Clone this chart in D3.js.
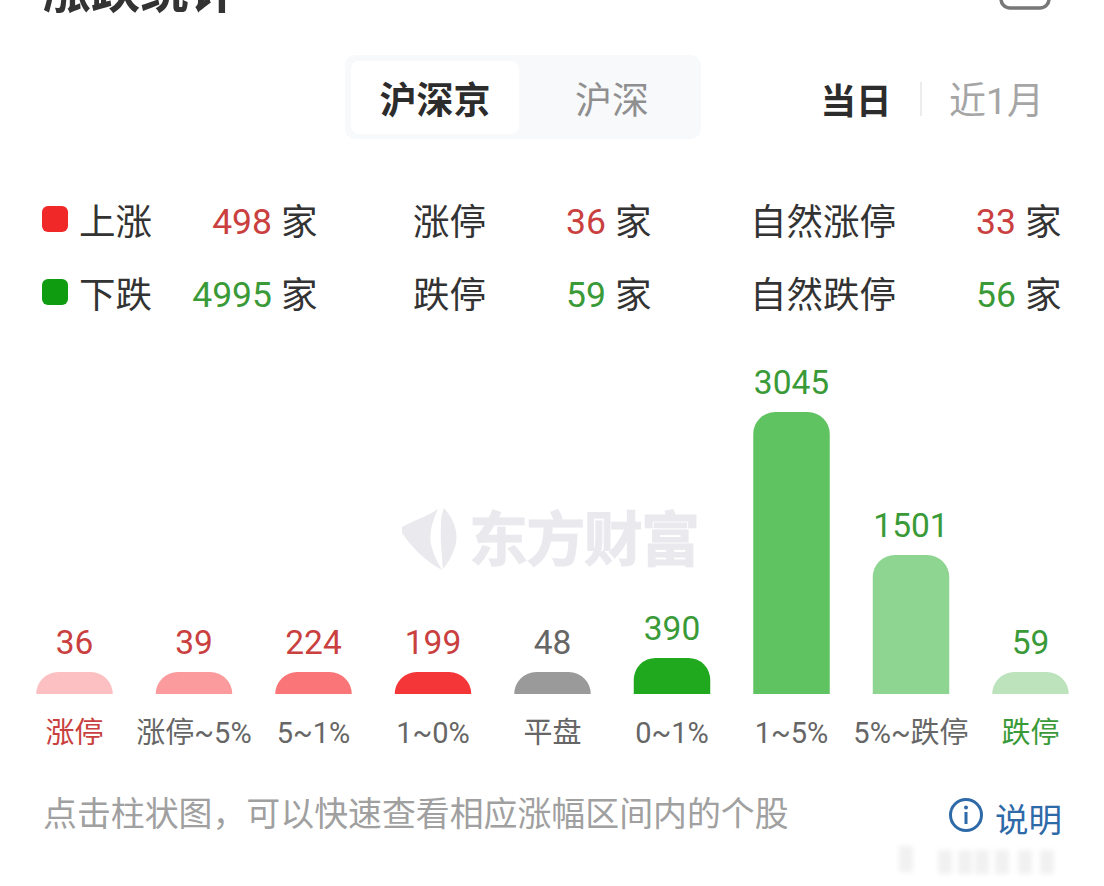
<!DOCTYPE html>
<html><head><meta charset="utf-8">
<script src="https://cdn.jsdelivr.net/npm/d3@7/dist/d3.min.js"></script>
<style>html,body{margin:0;padding:0;background:#fff}svg{display:block}
text{font-family:Roboto,"Noto Sans CJK SC",sans-serif}</style></head><body>
<svg id="c" width="1104" height="886"></svg>
<script>
const categories=["涨停","涨停~5%","5~1%","1~0%","平盘","0~1%","1~5%","5%~跌停","跌停"];
const counts=[36,39,224,199,48,390,3045,1501,59];
const barColors=["#fcc0c2","#fb9b9d","#f97577","#f53639","#9a9a9a","#20a91e","#60c362","#8fd592","#bde3bd"];
const valueColors=["#c9403f","#c9403f","#c9403f","#c9403f","#666666","#3a9a38","#3a9a38","#3a9a38","#3a9a38"];
const labelColors=["#c9403f","#666666","#666666","#666666","#666666","#666666","#666666","#666666","#3a9a38"];
const legendNames=[["上涨","涨停","自然涨停"],["下跌","跌停","自然跌停"]];
const legendValues=[[498,36,33],[4995,59,56]];
const legendColors=["#c9403f","#3a9a38"];
const swatches=["#f02828","#109c10"];

const svg=d3.select("#c");
const T=(x,y,s,size,fill,anchor="start",weight=400)=>svg.append("text").attr("x",x).attr("y",y)
  .attr("font-size",size).attr("fill",fill).attr("text-anchor",anchor).attr("font-weight",weight).text(s);

// heading (cropped by the top edge)
T(42,8,"涨跌统计",49,"#333","start",700);
svg.append("rect").attr("x",1001).attr("y",-24).attr("width",48).attr("height",32).attr("rx",9)
  .attr("fill","none").attr("stroke","#777").attr("stroke-width",3.5);

// tabs
svg.append("rect").attr("x",345).attr("y",55).attr("width",356).attr("height",84).attr("rx",10).attr("fill","#f8f9fb");
svg.append("rect").attr("x",351).attr("y",61).attr("width",168).attr("height",73).attr("rx",8).attr("fill","#fff");
T(435,114,"沪深京",37,"#2c2c2c","middle",700);
T(612,114,"沪深",37,"#8f8f8f","middle");
T(856,114,"当日",35.5,"#2c2c2c","middle",700);
svg.append("line").attr("x1",921).attr("x2",921).attr("y1",82).attr("y2",116).attr("stroke","#e6e6e6").attr("stroke-width",1.5);
T(996.5,114,"近1月",37,"#a5a5a5","middle");

// legend table
const rowY=[235,308], nameX=[79,413,750], valueEnd=[272,606,1016], unitX=[281,615,1025];
legendNames.forEach((row,r)=>{
  svg.append("rect").attr("x",42).attr("y",[206,279][r]).attr("width",26).attr("height",26).attr("rx",6).attr("fill",swatches[r]);
  row.forEach((n,i)=>{
    T(nameX[i],rowY[r],n,36.5,"#333");
    T(valueEnd[i],rowY[r]-1,legendValues[r][i],35.5,legendColors[r],"end");
    T(unitX[i],rowY[r],"家",36.5,"#333");
  });
});

// watermark
const wm=svg.append("g").attr("fill","#e9e9ee");
wm.append("path").attr("d","M402 527 C415 520 428 516 438 509 C432 522 428 535 432 548 C434 556 438 563 442 570 C428 563 412 548 402 533Z");
wm.append("path").attr("d","M444 508 C455 520 459 535 455 547 C452 556 448 563 443 569 C442 555 440 540 441 525 C441 518 442 513 444 508Z");
wm.append("text").attr("x",469).attr("y",561).attr("font-size",59).attr("font-weight",700)
  .attr("stroke","#e9e9ee").attr("stroke-width",1).attr("textLength",231).text("东方财富");

// chart
const x=d3.scaleBand().domain(categories).range([14.75,1090.25]).paddingInner(43/119.5).paddingOuter(21.5/119.5);
const y=d3.scaleLinear().domain([0,3045]).range([694,412]);
const minH=22, capR=22;
const barTop=d=>Math.min(y(d),694-minH);
const g=svg.append("g");
counts.forEach((v,i)=>{
  const c=categories[i],x0=x(c),w=x.bandwidth(),t=barTop(v),r=capR;
  g.append("path").attr("fill",barColors[i])
   .attr("d",`M${x0} 694V${t+r}A${r} ${r} 0 0 1 ${x0+r} ${t}H${x0+w-r}A${r} ${r} 0 0 1 ${x0+w} ${t+r}V694Z`);
  T(x0+w/2,t-18,v,33.5,valueColors[i],"middle");
  T(x0+w/2,743,c,29,labelColors[i],"middle");
});

// footer
T(43,826,"点击柱状图，可以快速查看相应涨幅区间内的个股",33.9,"#a0a0a0");
const info=svg.append("g").attr("transform","translate(966,815)");
info.append("circle").attr("r",15.5).attr("fill","none").attr("stroke","#2f6aa8").attr("stroke-width",3);
info.append("circle").attr("cy",-7.5).attr("r",2).attr("fill","#2f6aa8");
info.append("rect").attr("x",-1.5).attr("y",-3).attr("width",3).attr("height",12).attr("fill","#2f6aa8");
T(995,832,"说明",33.5,"#2f6aa8");

// faint blurred stamp at the lower right
const f=svg.append("defs").append("filter").attr("id","bl");
f.append("feGaussianBlur").attr("stdDeviation",2.5);
const st=svg.append("g").attr("filter","url(#bl)").attr("fill","#f1f1f1");
st.append("rect").attr("x",899).attr("y",846).attr("width",14).attr("height",26);
[938,958,975,995,1018,1040].forEach(px=>st.append("rect").attr("x",px).attr("y",850).attr("width",14).attr("height",24));
</script></body></html>
